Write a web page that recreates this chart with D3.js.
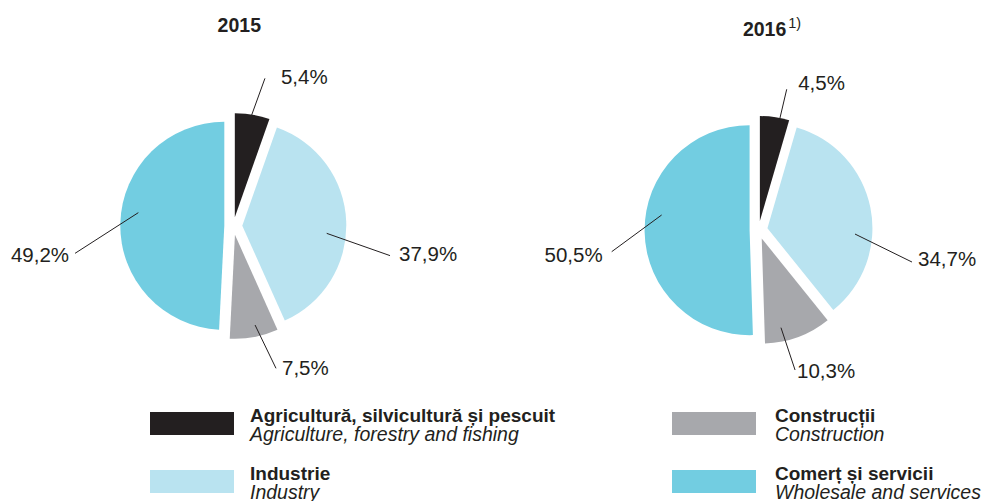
<!DOCTYPE html>
<html><head><meta charset="utf-8">
<script src="https://cdn.jsdelivr.net/npm/d3@7"></script>
<style>
body{margin:0;background:#fff}
svg{display:block}
text{font-family:"Liberation Sans",Arial,Helvetica,sans-serif;fill:#231f20}
</style>
</head><body><div id="chart"></div>
<script>
// ---- data ----
const categories = ["Agricultură, silvicultură și pescuit", "Industrie", "Construcții", "Comerț și servicii"];
const categoriesEn = ["Agriculture, forestry and fishing", "Industry", "Construction", "Wholesale and services"];
const years = ["2015", "2016"];
const yearNotes = ["", "1)"];
const values2015 = [5.4, 37.9, 7.5, 49.2];
const values2016 = [4.5, 34.7, 10.3, 50.5];
const colors = ["#231f20", "#b9e3f0", "#a7a8ac", "#72cde1"];

// ---- layout ----
const W = 987, H = 501;
const pies = [
  {cx: 233.3, cy: 226, r: 104, values: values2015,
   // leader: [startR, startAngleDeg, endR, endAngleDeg, labelDx, labelDy, anchor]
   leaders: [[112.5, 9.4, 151, 12.1, 16, 6, "start"],
             [93.7, 94.5, 159.5, 100.7, 9, 5, "start"],
             [101.4, 167.6, 148.6, 163.3, 6, 7, "start"],
             [95.9, 278, 160.6, 260.2, -6, 8.5, "end"]]},
  {cx: 758.6, cy: 230, r: 105, values: values2016,
   leaders: [[113.7, 10.8, 143.5, 11.3, 11.5, 1, "start"],
             [96.5, 92.4, 156.7, 101.8, 6, 4, "start"],
             [100.2, 167.1, 144.7, 165.4, 2, 8, "start"],
             [98.1, 278.8, 148.5, 261.6, -9, 10, "end"]]}
];
const explode = 9;

const svg = d3.select("#chart").append("svg").attr("width", W).attr("height", H);
const fmt = v => d3.format(".1f")(v).replace(".", ",") + "%";
const polar = (cx, cy, r, deg) => {
  const a = deg * Math.PI / 180;
  return [cx + r * Math.sin(a), cy - r * Math.cos(a)];
};

const pieGen = d3.pie().sort(null).value(d => d);

pies.forEach((p, pi) => {
  const g = svg.append("g");
  const arc = d3.arc().innerRadius(0).outerRadius(p.r);
  const arcs = pieGen(p.values);
  g.selectAll("path.slice").data(arcs).join("path")
    .attr("class", "slice")
    .attr("fill", (d, i) => colors[i])
    .attr("d", arc)
    .attr("transform", d => {
      const m = (d.startAngle + d.endAngle) / 2;
      return `translate(${p.cx + explode * Math.sin(m)},${p.cy - explode * Math.cos(m)})`;
    });

  // leader lines + labels
  arcs.forEach((d, i) => {
    const L = p.leaders[i];
    const s = polar(p.cx, p.cy, L[0], L[1]);
    const e = polar(p.cx, p.cy, L[2], L[3]);
    g.append("line").attr("x1", s[0]).attr("y1", s[1]).attr("x2", e[0]).attr("y2", e[1])
      .attr("stroke", "#231f20").attr("stroke-width", 1);
    g.append("text").attr("x", e[0] + L[4]).attr("y", e[1] + L[5])
      .attr("text-anchor", L[6]).attr("font-size", 20.5).text(fmt(d.data));
  });

  // title
  const tx = p.cx + 6, ty = p.cy - 194;
  const t = g.append("text").attr("x", tx).attr("y", ty).attr("text-anchor", "middle")
    .attr("font-size", 19.5).attr("font-weight", "bold").text(years[pi]);
  if (yearNotes[pi]) {
    const w = t.node().getComputedTextLength();
    g.append("text").attr("x", tx + w / 2 + 2).attr("y", ty - 8)
      .attr("font-size", 14.5).text(yearNotes[pi]);
  }
});

// legend
const legCols = [{sx: 150, tx: 250}, {sx: 672, tx: 775}];
const legRows = [412, 470];
categories.forEach((c, i) => {
  const col = legCols[Math.floor(i / 2)], y = legRows[i % 2];
  svg.append("rect").attr("x", col.sx).attr("y", y).attr("width", 84).attr("height", 23)
    .attr("fill", colors[i]);
  svg.append("text").attr("x", col.tx).attr("y", y + 10).attr("font-size", 19)
    .attr("font-weight", "bold").text(c);
  svg.append("text").attr("x", col.tx).attr("y", y + 28.5).attr("font-size", 19.5)
    .attr("font-style", "italic").text(categoriesEn[i]);
});
</script>
</body></html>
